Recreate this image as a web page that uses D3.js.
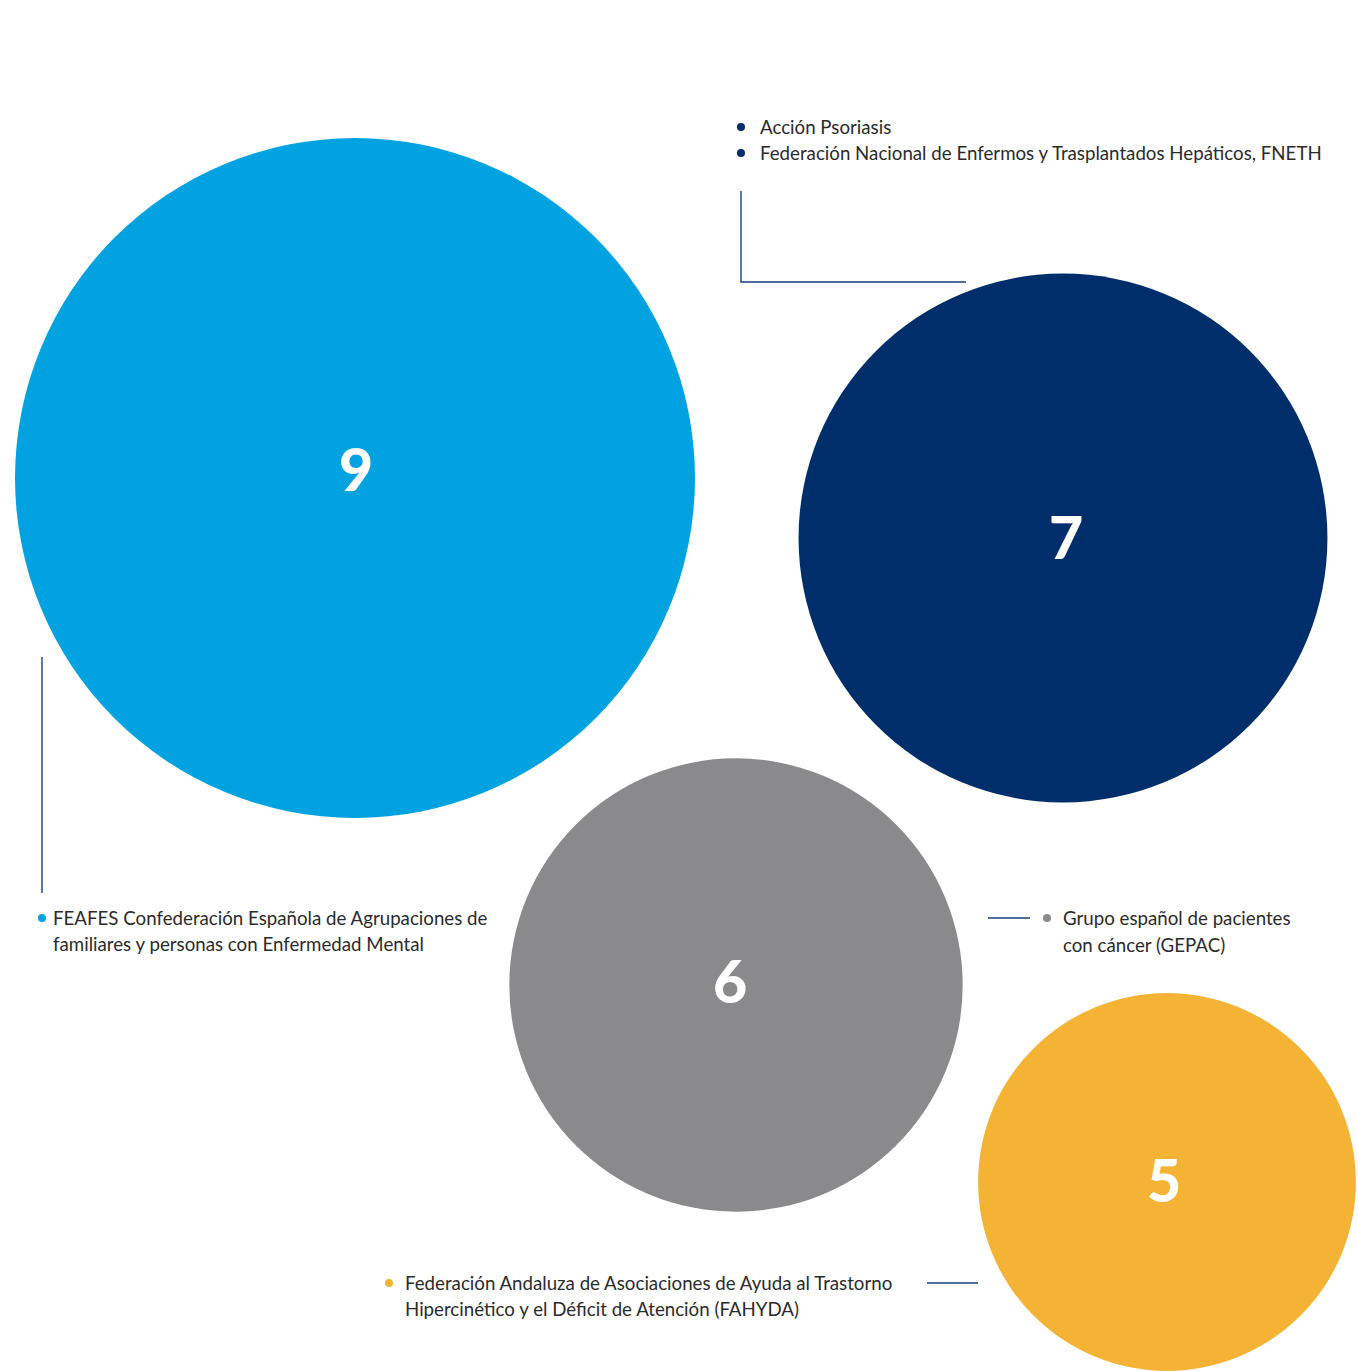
<!DOCTYPE html>
<html>
<head>
<meta charset="utf-8">
<script src="https://cdn.jsdelivr.net/npm/d3@7"></script>
<style>
  html, body { margin: 0; padding: 0; background: #ffffff; }
  svg { display: block; }
</style>
</head>
<body>
<div id="chart"></div>
<script>
// ---- DATA ----
const groupIds = ["feafes", "psoriasis_fneth", "gepac", "fahyda"];
const groupValues = [9, 7, 6, 5];
const groupLegendLines = [
  [["FEAFES Confederación Española de Agrupaciones de", "familiares y personas con Enfermedad Mental"]],
  [["Acción Psoriasis"], ["Federación Nacional de Enfermos y Trasplantados Hepáticos, FNETH"]],
  [["Grupo español de pacientes", "con cáncer (GEPAC)"]],
  [["Federación Andaluza de Asociaciones de Ayuda al Trastorno", "Hipercinético y el Déficit de Atención (FAHYDA)"]]
];

// ---- STYLE / LAYOUT ----
const groupColors = ["#00a3df", "#002e6b", "#8a8a8c", "#f5b335"];
const W = 1358, H = 1371;
const layout = {
  feafes:          { cx: 355,  cy: 478,  ndx: 1,  ndy: -8, legendPos: { x: 42,   y: 918, tx: 11, dy: 26, stack: 26 },
                     leader: [[42, 657], [42, 893]] },
  psoriasis_fneth: { cx: 1063, cy: 538,  ndx: 3,  ndy: 0,  legendPos: { x: 741,  y: 127, tx: 19, dy: 26, stack: 26 },
                     leader: [[741, 191], [741, 282], [966, 282]] },
  gepac:           { cx: 736,  cy: 985,  ndx: -6, ndy: -3, legendPos: { x: 1047, y: 918, tx: 16, dy: 27, stack: 27 },
                     leader: [[988, 918], [1030, 918]] },
  fahyda:          { cx: 1167, cy: 1182, ndx: -3, ndy: -1, legendPos: { x: 389,  y: 1283, tx: 16, dy: 26, stack: 26 },
                     leader: [[927, 1283], [978, 1283]] }
};
const textColor = "#2b2b2b";
const leaderColor = "#163f7c";

const data = groupIds.map((id, i) => Object.assign({
  id, value: groupValues[i], color: groupColors[i], lines: groupLegendLines[i]
}, layout[id]));

const r = d3.scaleLinear().domain([0, d3.max(groupValues)]).range([0, 340]);

const svg = d3.select("#chart").append("svg")
  .attr("width", W).attr("height", H)
  .attr("viewBox", `0 0 ${W} ${H}`);

// circles
svg.append("g").selectAll("circle").data(data).join("circle")
  .attr("cx", d => d.cx).attr("cy", d => d.cy)
  .attr("r", d => r(d.value))
  .attr("fill", d => d.color);

// value labels
svg.append("g").selectAll("text").data(data).join("text")
  .attr("x", d => d.cx + d.ndx)
  .attr("y", d => d.cy + d.ndy)
  .attr("dy", "0.36em")
  .attr("text-anchor", "middle")
  .attr("font-family", "Lato, 'Open Sans', sans-serif")
  .attr("font-weight", 900)
  .attr("font-size", 59)
  .attr("fill", "#ffffff")
  .text(d => d.value);

// leader lines
const line = d3.line();
svg.append("g").selectAll("path").data(data).join("path")
  .attr("d", d => line(d.leader))
  .attr("fill", "none")
  .attr("stroke", leaderColor)
  .attr("stroke-width", 1.4);

// legends
const lg = svg.append("g").selectAll("g").data(data).join("g");
lg.each(function(d) {
  const g = d3.select(this);
  const L = d.legendPos;
  d.lines.forEach((entry, k) => {
    const by = L.y + k * L.stack;
    g.append("circle")
      .attr("cx", L.x).attr("cy", by).attr("r", 4)
      .attr("fill", d.color);
    const t = g.append("text")
      .attr("x", L.x + L.tx)
      .attr("y", by + 7)
      .attr("font-family", "Lato, 'Open Sans', sans-serif")
      .attr("font-size", 18.7)
      .attr("fill", textColor);
    entry.forEach((ln, j) => {
      t.append("tspan").attr("x", L.x + L.tx).attr("dy", j === 0 ? 0 : L.dy).text(ln);
    });
  });
});
</script>
</body>
</html>
